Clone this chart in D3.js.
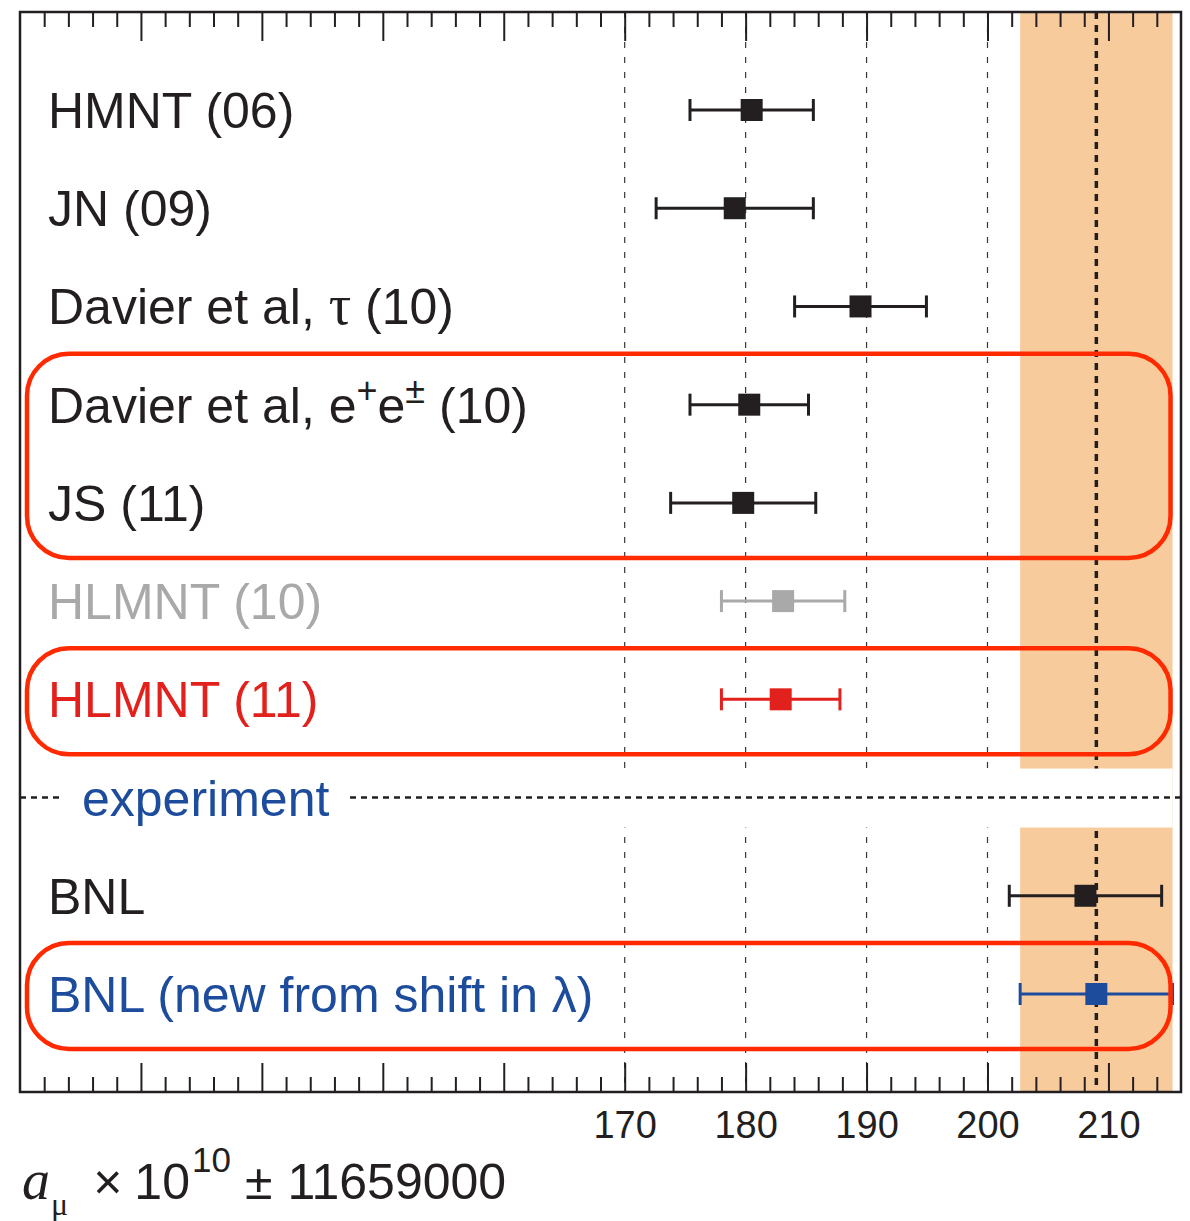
<!DOCTYPE html>
<html>
<head>
<meta charset="utf-8">
<script src="https://cdn.jsdelivr.net/npm/d3@7"></script>
<style>
  body { margin: 0; background: #fff; }
  svg { display: block; }
</style>
</head>
<body>
<svg id="chart" width="1190" height="1221"></svg>
<script>
// rows from top to bottom
const rows = ["HMNT06", "JN09", "DavierTau10", "DavierEE10", "JS11", "HLMNT10", "HLMNT11", "experiment", "BNL", "BNLnew"];
const values = [180.5, 179.1, 189.5, 180.3, 179.8, 183.1, 182.9, null, 208.1, 209.0];
const errors = [5.1, 6.5, 5.45, 4.9, 6.0, 5.1, 4.9, null, 6.3, 6.3];
const rowColors = ["#231f20", "#231f20", "#231f20", "#231f20", "#231f20", "#a9a9a9", "#e3211c", "#1d4c9d", "#231f20", "#1d4c9d"];
const boxedGroups = [["DavierEE10", "JS11"], ["HLMNT11"], ["BNLnew"]];
const gridValues = [170, 180, 190, 200];
const tickLabels = [170, 180, 190, 200, 210];
const bandRow = "BNLnew";

const width = 1190;
const height = 1221;
const margin = { top: 12, right: 9, bottom: 129, left: 20 };
const plotBottom = height - margin.bottom;
const plotRight = width - margin.right;

const svg = d3.select("#chart");

const x = d3.scaleLinear().domain([120, 216]).range([margin.left, plotRight]);
const y = d3.scalePoint().domain(rows).range([110, 994]);

const black = "#231f20";
const bandIdx = rows.indexOf(bandRow);
const bandVal = values[bandIdx];
const bandErr = errors[bandIdx];

// orange band (experimental value +- error)
svg.append("rect")
  .attr("x", x(bandVal - bandErr))
  .attr("y", margin.top)
  .attr("width", x(bandVal + bandErr) - x(bandVal - bandErr))
  .attr("height", plotBottom - margin.top)
  .attr("fill", "#f8cb9c");

// vertical dashed grid
svg.append("g")
  .selectAll("line")
  .data(gridValues)
  .join("line")
  .attr("x1", d => x(d))
  .attr("x2", d => x(d))
  .attr("y1", margin.top)
  .attr("y2", plotBottom)
  .attr("stroke", "#3a3536")
  .attr("stroke-width", 1.2)
  .attr("stroke-dasharray", "6,9");

// thick dotted line at the experimental value
svg.append("line")
  .attr("x1", x(bandVal))
  .attr("x2", x(bandVal))
  .attr("y1", margin.top)
  .attr("y2", plotBottom)
  .attr("stroke", black)
  .attr("stroke-width", 3.5)
  .attr("stroke-dasharray", "7,6");

// white gap at the "experiment" separator row
const yExp = y("experiment");
svg.append("rect")
  .attr("x", margin.left)
  .attr("y", yExp - 29)
  .attr("width", x(bandVal + bandErr) - margin.left)
  .attr("height", 59)
  .attr("fill", "#fff");

svg.append("line")
  .attr("x1", margin.left)
  .attr("x2", plotRight)
  .attr("y1", yExp)
  .attr("y2", yExp)
  .attr("stroke", black)
  .attr("stroke-width", 2.5)
  .attr("stroke-dasharray", "6,5");

const labelFont = "'Liberation Sans', Arial, sans-serif";
const serif = "'Liberation Serif', 'Times New Roman', serif";

const expText = svg.append("text")
  .attr("x", 82)
  .attr("y", yExp)
  .attr("dy", "0.36em")
  .attr("font-family", labelFont)
  .attr("font-size", 50)
  .attr("fill", rowColors[rows.indexOf("experiment")])
  .text("experiment");
const eb = expText.node().getBBox();
svg.insert("rect", "text")
  .attr("x", eb.x - 20)
  .attr("y", yExp - 6)
  .attr("width", eb.width + 38)
  .attr("height", 12)
  .attr("fill", "#fff");

// error bars
const pts = rows.map((r, i) => ({ row: r, v: values[i], e: errors[i], c: rowColors[i] }))
  .filter(d => d.v !== null);

const bars = svg.append("g");
bars.selectAll("line.err")
  .data(pts)
  .join("line")
  .attr("class", "err")
  .attr("x1", d => x(d.v - d.e))
  .attr("x2", d => x(d.v + d.e))
  .attr("y1", d => y(d.row))
  .attr("y2", d => y(d.row))
  .attr("stroke", d => d.c)
  .attr("stroke-width", 3);

[-1, 1].forEach(s => {
  bars.selectAll("line.cap" + (s + 1))
    .data(pts)
    .join("line")
    .attr("class", "cap" + (s + 1))
    .attr("x1", d => x(d.v + s * d.e))
    .attr("x2", d => x(d.v + s * d.e))
    .attr("y1", d => y(d.row) - 11)
    .attr("y2", d => y(d.row) + 11)
    .attr("stroke", d => d.c)
    .attr("stroke-width", 3);
});

bars.selectAll("rect")
  .data(pts)
  .join("rect")
  .attr("x", d => x(d.v) - 11)
  .attr("y", d => y(d.row) - 11)
  .attr("width", 22)
  .attr("height", 22)
  .attr("fill", d => d.c);

// row labels
function label(row) {
  const i = rows.indexOf(row);
  return svg.append("text")
    .attr("x", 48)
    .attr("y", y(row))
    .attr("dy", "0.36em")
    .attr("font-family", labelFont)
    .attr("font-size", 50)
    .attr("fill", rowColors[i]);
}
label("HMNT06").text("HMNT (06)");
label("JN09").text("JN (09)");
const t3 = label("DavierTau10");
t3.append("tspan").text("Davier et al, ");
t3.append("tspan").attr("font-family", serif).attr("font-size", 56).text("τ");
t3.append("tspan").text(" (10)");
const t4 = label("DavierEE10");
t4.append("tspan").text("Davier et al, e");
t4.append("tspan").attr("font-size", 36).attr("dy", -20).text("+");
t4.append("tspan").attr("dy", 20).text("e");
t4.append("tspan").attr("font-size", 36).attr("dy", -20).text("±");
t4.append("tspan").attr("dy", 20).text(" (10)");
label("JS11").text("JS (11)");
label("HLMNT10").text("HLMNT (10)");
label("HLMNT11").text("HLMNT (11)");
label("BNL").text("BNL");
label("BNLnew").text("BNL (new from shift in λ)");

// red highlight boxes
svg.append("g")
  .selectAll("rect")
  .data(boxedGroups)
  .join("rect")
  .attr("x", margin.left + 7)
  .attr("y", d => y(d[0]) - 51)
  .attr("width", x(bandVal + bandErr) - 2 - (margin.left + 7))
  .attr("height", d => y(d[d.length - 1]) - y(d[0]) + 106)
  .attr("rx", 42)
  .attr("fill", "none")
  .attr("stroke", "#ff2a00")
  .attr("stroke-width", 4.5);

// ticks: minor every 2, major every 10, inward on top and bottom
const minorTicks = d3.range(122, 216, 2).filter(d => d % 10 !== 0);
const majorTicks = d3.range(130, 216, 10);

function tickAxis(axisFn, vals, size, yPos, fmt, pad) {
  const g = svg.append("g")
    .attr("transform", `translate(0,${yPos})`)
    .call(axisFn(x).tickValues(vals).tickSize(size).tickPadding(pad || 3).tickFormat(fmt));
  g.select(".domain").remove();
  g.selectAll(".tick line").attr("stroke", black).attr("stroke-width", 2);
  return g;
}
tickAxis(d3.axisTop, minorTicks, -15, margin.top, () => "");
tickAxis(d3.axisTop, majorTicks, -29, margin.top, () => "");
tickAxis(d3.axisBottom, minorTicks, -15, plotBottom, () => "");
const bottomMajor = tickAxis(d3.axisBottom, majorTicks, -29, plotBottom,
  d => tickLabels.includes(d) ? d : "", 19);
bottomMajor.selectAll(".tick text")
  .attr("font-family", labelFont)
  .attr("font-size", 38)
  .attr("fill", black);

// frame
svg.append("rect")
  .attr("x", margin.left)
  .attr("y", margin.top)
  .attr("width", plotRight - margin.left)
  .attr("height", plotBottom - margin.top)
  .attr("fill", "none")
  .attr("stroke", black)
  .attr("stroke-width", 2.5);

// x axis title
const title = svg.append("text")
  .attr("x", 22)
  .attr("y", 1199)
  .attr("font-family", labelFont)
  .attr("font-size", 50)
  .attr("fill", black);
title.append("tspan").attr("font-family", serif).attr("font-style", "italic").attr("font-size", 56).text("a");
title.append("tspan").attr("font-family", serif).attr("font-size", 32).attr("dy", 16).attr("dx", 1).text("μ");
title.append("tspan").attr("dy", -16).attr("dx", 25).text("×");
title.append("tspan").attr("dx", 12).text("10");
title.append("tspan").attr("font-size", 35).attr("dy", -27).attr("dx", 2).text("10");
title.append("tspan").attr("dy", 27).attr("dx", 14).text("±");
title.append("tspan").attr("dx", 15).text("11659000");
</script>
</body>
</html>
